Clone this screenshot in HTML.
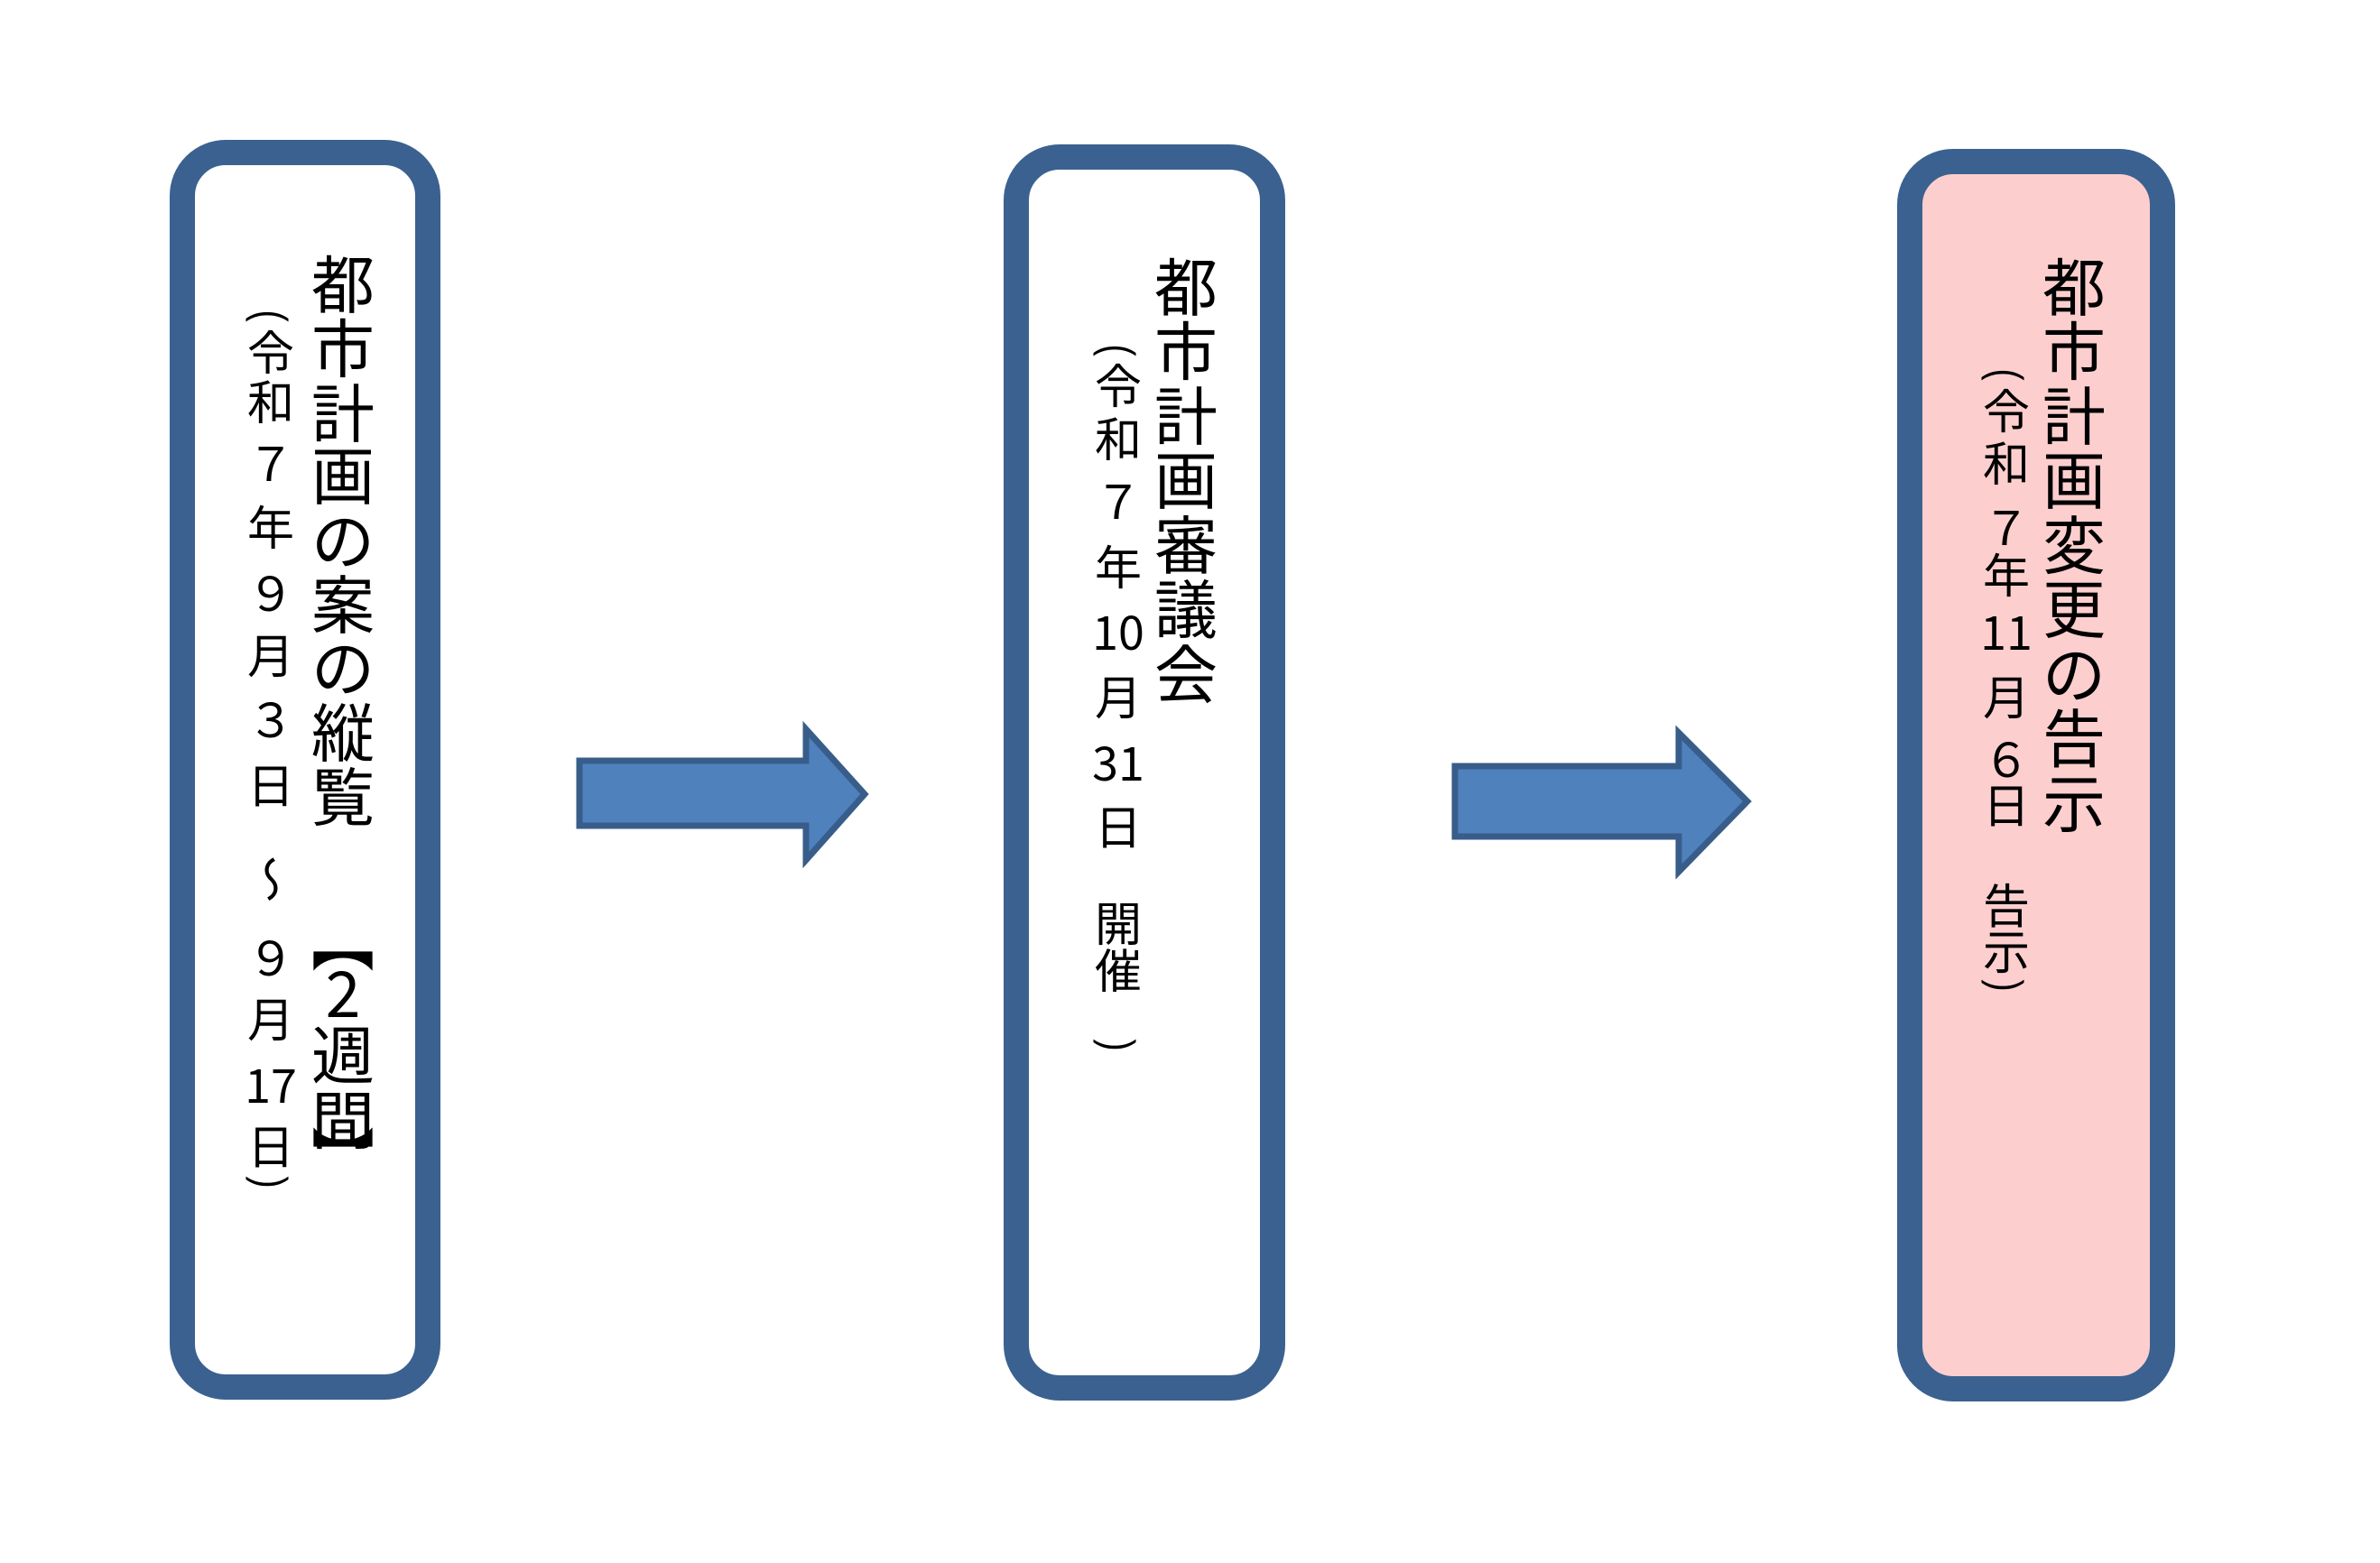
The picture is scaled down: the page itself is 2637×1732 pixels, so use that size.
<!DOCTYPE html>
<html><head><meta charset="utf-8"><style>
html,body{margin:0;padding:0;background:#fff}
body{width:2637px;height:1732px;position:relative;overflow:hidden;font-family:"Liberation Sans","Noto Sans CJK JP",sans-serif;color:#000}
.box{position:absolute;border:28px solid #3b6190;border-radius:62px;box-sizing:border-box;background:#fff}
.c{position:absolute;transform:translate(-50%,-50%);line-height:1;white-space:nowrap}
.L{font-size:70px;font-family:"Noto Sans CJK JP",sans-serif}
.S{font-size:52px;font-family:"Noto Sans CJK JP",sans-serif}
.v{writing-mode:vertical-rl;text-orientation:upright}
.p{font-family:"Liberation Sans",sans-serif;font-size:50px;transform:translate(-50%,-50%) rotate(90deg) scaleX(0.8)}
.b{font-family:"Noto Sans CJK JP",sans-serif;font-size:70px}
</style></head><body>
<div class="box" style="left:188px;top:155px;width:300px;height:1396px"></div>
<div class="box" style="left:1112px;top:160px;width:312px;height:1392px"></div>
<div class="box" style="left:2102px;top:165px;width:308px;height:1388px;background:#fccfce"></div>

<svg width="2637" height="1732" style="position:absolute;left:0;top:0">
<polygon points="642,843 893,843 893,808 958,880 893,953 893,915 642,915" fill="#4f81bd" stroke="#385d8a" stroke-width="7"/>
<polygon points="1612,849 1860,849 1860,812 1936,888 1860,966 1860,927 1612,927" fill="#4f81bd" stroke="#385d8a" stroke-width="7"/>
</svg>

<!-- Box1 large -->
<div class="c L" style="left:380px;top:312px">都</div>
<div class="c L" style="left:380px;top:383px">市</div>
<div class="c L" style="left:380px;top:455px">計</div>
<div class="c L" style="left:380px;top:524px">画</div>
<div class="c L" style="left:380px;top:596px">の</div>
<div class="c L" style="left:380px;top:667px">案</div>
<div class="c L" style="left:380px;top:737px">の</div>
<div class="c L" style="left:380px;top:809px">縦</div>
<div class="c L" style="left:380px;top:880px">覧</div>
<div class="c b" style="left:380px;top:1040px">︻</div>
<div class="c L" style="left:380px;top:1098px">2</div>
<div class="c L" style="left:380px;top:1166px">週</div>
<div class="c L" style="left:380px;top:1238px">間</div>
<div class="c b" style="left:380px;top:1280px">︼</div>
<!-- Box1 small -->
<div class="c p" style="left:300px;top:350px">(</div>
<div class="c S" style="left:300px;top:388px">令</div>
<div class="c S" style="left:300px;top:443px">和</div>
<div class="c S" style="left:300px;top:511px">７</div>
<div class="c S" style="left:300px;top:582px">年</div>
<div class="c S" style="left:300px;top:655px">９</div>
<div class="c S" style="left:300px;top:724px">月</div>
<div class="c S" style="left:300px;top:795px">３</div>
<div class="c S" style="left:300px;top:868px">日</div>
<div class="c S v" style="left:300px;top:974px">～</div>
<div class="c S" style="left:300px;top:1059px">９</div>
<div class="c S" style="left:300px;top:1127px">月</div>
<div class="c S" style="left:300px;top:1200px">17</div>
<div class="c S" style="left:300px;top:1268px">日</div>
<div class="c p" style="left:300px;top:1310px">)</div>

<!-- Box2 large -->
<div class="c L" style="left:1314px;top:315px">都</div>
<div class="c L" style="left:1314px;top:386px">市</div>
<div class="c L" style="left:1314px;top:458px">計</div>
<div class="c L" style="left:1314px;top:529px">画</div>
<div class="c L" style="left:1314px;top:601px">審</div>
<div class="c L" style="left:1314px;top:672px">議</div>
<div class="c L" style="left:1314px;top:744px">会</div>
<!-- Box2 small -->
<div class="c p" style="left:1239px;top:388px">(</div>
<div class="c S" style="left:1239px;top:425px">令</div>
<div class="c S" style="left:1239px;top:484px">和</div>
<div class="c S" style="left:1239px;top:553px">７</div>
<div class="c S" style="left:1239px;top:626px">年</div>
<div class="c S" style="left:1239px;top:698px">10</div>
<div class="c S" style="left:1239px;top:770px">月</div>
<div class="c S" style="left:1239px;top:843px">31</div>
<div class="c S" style="left:1239px;top:914px">日</div>
<div class="c S" style="left:1239px;top:1021px">開</div>
<div class="c S" style="left:1239px;top:1073px">催</div>
<div class="c p" style="left:1239px;top:1158px">)</div>

<!-- Box3 large -->
<div class="c L" style="left:2298px;top:315px">都</div>
<div class="c L" style="left:2298px;top:386px">市</div>
<div class="c L" style="left:2298px;top:458px">計</div>
<div class="c L" style="left:2298px;top:529px">画</div>
<div class="c L" style="left:2298px;top:601px">変</div>
<div class="c L" style="left:2298px;top:672px">更</div>
<div class="c L" style="left:2298px;top:744px">の</div>
<div class="c L" style="left:2298px;top:815px">告</div>
<div class="c L" style="left:2298px;top:887px">示</div>
<!-- Box3 small -->
<div class="c p" style="left:2223px;top:415px">(</div>
<div class="c S" style="left:2223px;top:453px">令</div>
<div class="c S" style="left:2223px;top:511px">和</div>
<div class="c S" style="left:2223px;top:582px">７</div>
<div class="c S" style="left:2223px;top:635px">年</div>
<div class="c S" style="left:2223px;top:698px">11</div>
<div class="c S" style="left:2223px;top:770px">月</div>
<div class="c S" style="left:2223px;top:839px">６</div>
<div class="c S" style="left:2223px;top:890px">日</div>
<div class="c S" style="left:2223px;top:1001px">告</div>
<div class="c S" style="left:2223px;top:1052px">示</div>
<div class="c p" style="left:2223px;top:1092px">)</div>
</body></html>
